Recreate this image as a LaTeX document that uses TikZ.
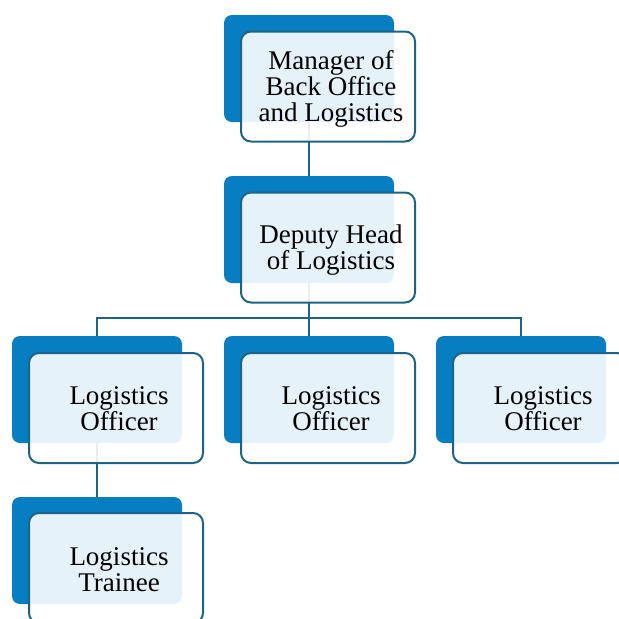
\documentclass[tikz,border=0pt]{standalone}
\usepackage{fontspec}
\setmainfont{Liberation Serif}
\usetikzlibrary{backgrounds}
\definecolor{accent}{HTML}{077DC2}
\definecolor{edge}{HTML}{1D6385}
\tikzset{
  backbox/.style={fill=accent, draw=none, rounded corners=8pt,
    minimum width=170pt, minimum height=107pt, inner sep=0pt},
  frontbox/.style={draw=edge, line width=2pt, fill=white, fill opacity=0.9,
    rounded corners=10pt, minimum width=174pt,
    minimum height=110pt, inner sep=0pt},
  caption/.style={inner sep=0pt, align=center,
    font=\fontsize{27}{26}\selectfont},
  conn/.style={draw=edge, line width=2pt}
}
\begin{document}
\begin{tikzpicture}[x=1pt, y=-1pt]
\useasboundingbox (0,0) rectangle (619,619);
\clip (0,0) rectangle (619,619);

% back plates with framed text panels on top
\node[backbox] (mb)  at (309,68.5)  {};
\node[frontbox] (m)  at (328,86.5)  {};
\node[caption] (mt) at (331,89) {Manager of\\Back Office\\and Logistics};

\node[backbox] (db)  at (309,229.5) {};
\node[frontbox] (d)  at (328,247.5) {};
\node[caption] (dt) at (331,250.5) {Deputy Head\\of Logistics};

\node[backbox] (o1b) at (97,389.5)  {};
\node[frontbox] (o1) at (116,408)   {};
\node[caption] (o1t) at (119,408.5) {Logistics\\Officer};

\node[backbox] (o2b) at (309,389.5) {};
\node[frontbox] (o2) at (328,408)   {};
\node[caption] (o2t) at (331,408.5) {Logistics\\Officer};

\node[backbox] (o3b) at (521,389.5) {};
\node[frontbox] (o3) at (540,408)   {};
\node[caption] (o3t) at (543,408.5) {Logistics\\Officer};

\node[backbox] (tb)  at (97,550.5)  {};
\node[frontbox] (t)  at (116,568)   {};
\node[caption] (tt) at (119,569.5) {Logistics\\Trainee};

\coordinate (bus) at (309,318);

% connectors behind the boxes
\begin{scope}[on background layer]
  \draw[conn] (mb.center) -- (db.north);
  \draw[conn] (db.center) -- (db.center |- bus) -| (o1b.north);
  \draw[conn] (db.center |- bus) -| (o3b.north);
  \draw[conn] (db.center) -- (o2b.north);
  \draw[conn] (o1b.center) -- (tb.north);
\end{scope}
\end{tikzpicture}
\end{document}
